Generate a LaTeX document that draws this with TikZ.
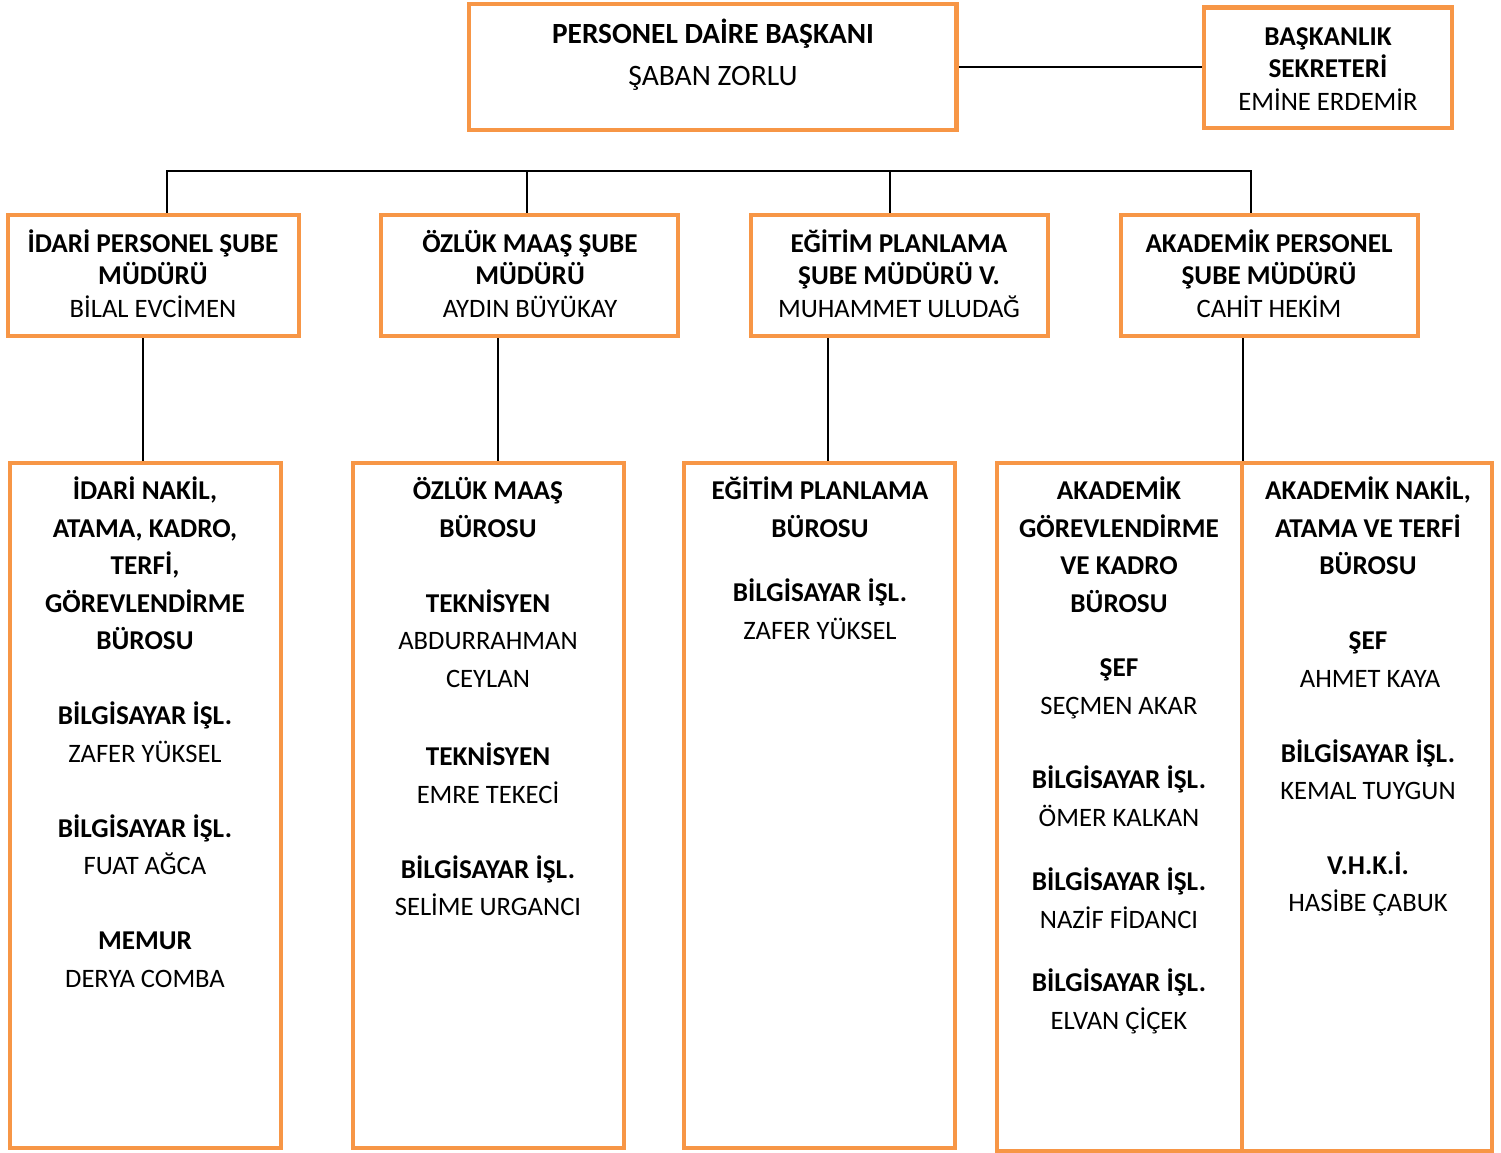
\documentclass[tikz,border=0pt]{standalone}
\usepackage{fontspec}
\setmainfont{Carlito}
\definecolor{orng}{HTML}{F79646}
\tikzset{
  box/.style={draw=orng, line width=4.5pt, fill=white, inner sep=0pt},
  txt/.style={inner sep=0pt, text height=17pt, text depth=0pt, anchor=center},
  hd/.style={txt, font=\fontsize{27.2}{32}\selectfont\bfseries},
  nm/.style={txt, font=\fontsize{26.6}{32}\selectfont},
  bighd/.style={txt, font=\fontsize{29.3}{34}\selectfont\bfseries},
  bignm/.style={txt, font=\fontsize{29.6}{34}\selectfont},
  wire/.style={draw=black, line width=1.6pt}
}
\begin{document}
\begin{tikzpicture}[x=1pt,y=-1pt]
\useasboundingbox[fill=white] (0,0) rectangle (1501,1153);
% top level
\node[box, minimum width=487.5, minimum height=126] (top) at (712.75,67) {};
\node[box, minimum width=248, minimum height=120.5] (sec) at (1328,67.75) {};
\node[bighd] (t1) at (713,35) {PERSONEL DAİRE BAŞKANI};
\node[bignm] (t2) at (713,77) {ŞABAN ZORLU};
\node[hd] (s1) at (1328,37) {BAŞKANLIK};
\node[hd] (s2) at (1328,69) {SEKRETERİ};
\node[nm] (s3) at (1328,102) {EMİNE ERDEMİR};
% second level
\node[box, minimum width=291, minimum height=121] (b1) at (153.5,275.5) {};
\node[box, minimum width=297, minimum height=121] (b2) at (529.5,275.5) {};
\node[box, minimum width=297, minimum height=121] (b3) at (899.5,275.5) {};
\node[box, minimum width=297, minimum height=121] (b4) at (1269.5,275.5) {};
\node[hd] (b1a) at (153,244) {İDARİ PERSONEL ŞUBE};
\node[hd] (b1b) at (153,276) {MÜDÜRÜ};
\node[nm] (b1c) at (153,309) {BİLAL EVCİMEN};
\node[hd] (b2a) at (530,244) {ÖZLÜK MAAŞ ŞUBE};
\node[hd] (b2b) at (530,276) {MÜDÜRÜ};
\node[nm] (b2c) at (530,309) {AYDIN BÜYÜKAY};
\node[hd] (b3a) at (899,244) {EĞİTİM PLANLAMA};
\node[hd] (b3b) at (899,276) {ŞUBE MÜDÜRÜ V.};
\node[nm] (b3c) at (899,309) {MUHAMMET ULUDAĞ};
\node[hd] (b4a) at (1269,244) {AKADEMİK PERSONEL};
\node[hd] (b4b) at (1269,276) {ŞUBE MÜDÜRÜ};
\node[nm] (b4c) at (1269,309) {CAHİT HEKİM};
% third level boxes
\node[box, minimum width=271, minimum height=685] (ba) at (145.5,805.5) {};
\node[box, minimum width=271, minimum height=685] (bb) at (488.5,805.5) {};
\node[box, minimum width=271, minimum height=685] (bc) at (819.5,805.5) {};
\node[box, minimum width=245, minimum height=688] (bd) at (1119.5,807) {};
\node[box, minimum width=250, minimum height=688] (be) at (1367,807) {};
% connectors
\coordinate (busL) at (167,171);
\coordinate (busR) at (1251,171);
\coordinate (d2) at (527,171);
\coordinate (d3) at (890,171);
\draw[wire] (b1.north -| busL) -- (busL) -- (busR) -- (b4.north -| busR);
\draw[wire] (d2) -- (b2.north -| d2);
\draw[wire] (d3) -- (b3.north -| d3);
\coordinate (v1) at (143,0);
\coordinate (v2) at (498,0);
\coordinate (v3) at (828,0);
\coordinate (v4) at (1243,0);
\draw[wire] (b1.south -| v1) -- (ba.north -| v1);
\draw[wire] (b2.south -| v2) -- (bb.north -| v2);
\draw[wire] (b3.south -| v3) -- (bc.north -| v3);
\draw[wire] (b4.south -| v4) -- (bd.north -| v4);
\draw[wire] (top.east) -- (top.east -| sec.west);
% box A text
\node[hd] (a1) at (145,491) {İDARİ NAKİL,};
\node[hd] (a2) at (145,528.5) {ATAMA, KADRO,};
\node[hd] (a3) at (145,566) {TERFİ,};
\node[hd] (a4) at (145,603.5) {GÖREVLENDİRME};
\node[hd] (a5) at (145,641) {BÜROSU};
\node[hd] (a6) at (145,716) {BİLGİSAYAR İŞL.};
\node[nm] (a7) at (145,753.5) {ZAFER YÜKSEL};
\node[hd] (a8) at (145,828.5) {BİLGİSAYAR İŞL.};
\node[nm] (a9) at (145,866) {FUAT AĞCA};
\node[hd] (a10) at (145,941) {MEMUR};
\node[nm] (a11) at (145,978.5) {DERYA COMBA};
% box B text
\node[hd] (bt1) at (488,491) {ÖZLÜK MAAŞ};
\node[hd] (bt2) at (488,528.5) {BÜROSU};
\node[hd] (bt3) at (488,603.5) {TEKNİSYEN};
\node[nm] (bt4) at (488,641) {ABDURRAHMAN};
\node[nm] (bt5) at (488,678.5) {CEYLAN};
\node[hd] (bt6) at (488,757) {TEKNİSYEN};
\node[nm] (bt7) at (488,794.5) {EMRE TEKECİ};
\node[hd] (bt8) at (488,869.5) {BİLGİSAYAR İŞL.};
\node[nm] (bt9) at (488,907) {SELİME URGANCI};
% box C text
\node[hd] (c1) at (820,491) {EĞİTİM PLANLAMA};
\node[hd] (c2) at (820,528.5) {BÜROSU};
\node[hd] (c3) at (820,593) {BİLGİSAYAR İŞL.};
\node[nm] (c4) at (820,630.5) {ZAFER YÜKSEL};
% box D text
\node[hd] (dt1) at (1119,491) {AKADEMİK};
\node[hd] (dt2) at (1119,528.5) {GÖREVLENDİRME};
\node[hd] (dt3) at (1119,566) {VE KADRO};
\node[hd] (dt4) at (1119,603.5) {BÜROSU};
\node[hd] (dt5) at (1119,668) {ŞEF};
\node[nm] (dt6) at (1119,705.5) {SEÇMEN AKAR};
\node[hd] (dt7) at (1119,780) {BİLGİSAYAR İŞL.};
\node[nm] (dt8) at (1119,817.5) {ÖMER KALKAN};
\node[hd] (dt9) at (1119,882) {BİLGİSAYAR İŞL.};
\node[nm] (dt10) at (1119,919.5) {NAZİF FİDANCI};
\node[hd] (dt11) at (1119,983) {BİLGİSAYAR İŞL.};
\node[nm] (dt12) at (1119,1020.5) {ELVAN ÇİÇEK};
% box E text
\node[hd] (e1) at (1368,491) {AKADEMİK NAKİL,};
\node[hd] (e2) at (1368,528.5) {ATAMA VE TERFİ};
\node[hd] (e3) at (1368,566) {BÜROSU};
\node[hd] (e4) at (1368,641) {ŞEF};
\node[nm] (e5) at (1370,678.5) {AHMET KAYA};
\node[hd] (e6) at (1368,754) {BİLGİSAYAR İŞL.};
\node[nm] (e7) at (1368,791) {KEMAL TUYGUN};
\node[hd] (e8) at (1368,866) {V.H.K.İ.};
\node[nm] (e9) at (1368,903) {HASİBE ÇABUK};
\end{tikzpicture}
\end{document}
